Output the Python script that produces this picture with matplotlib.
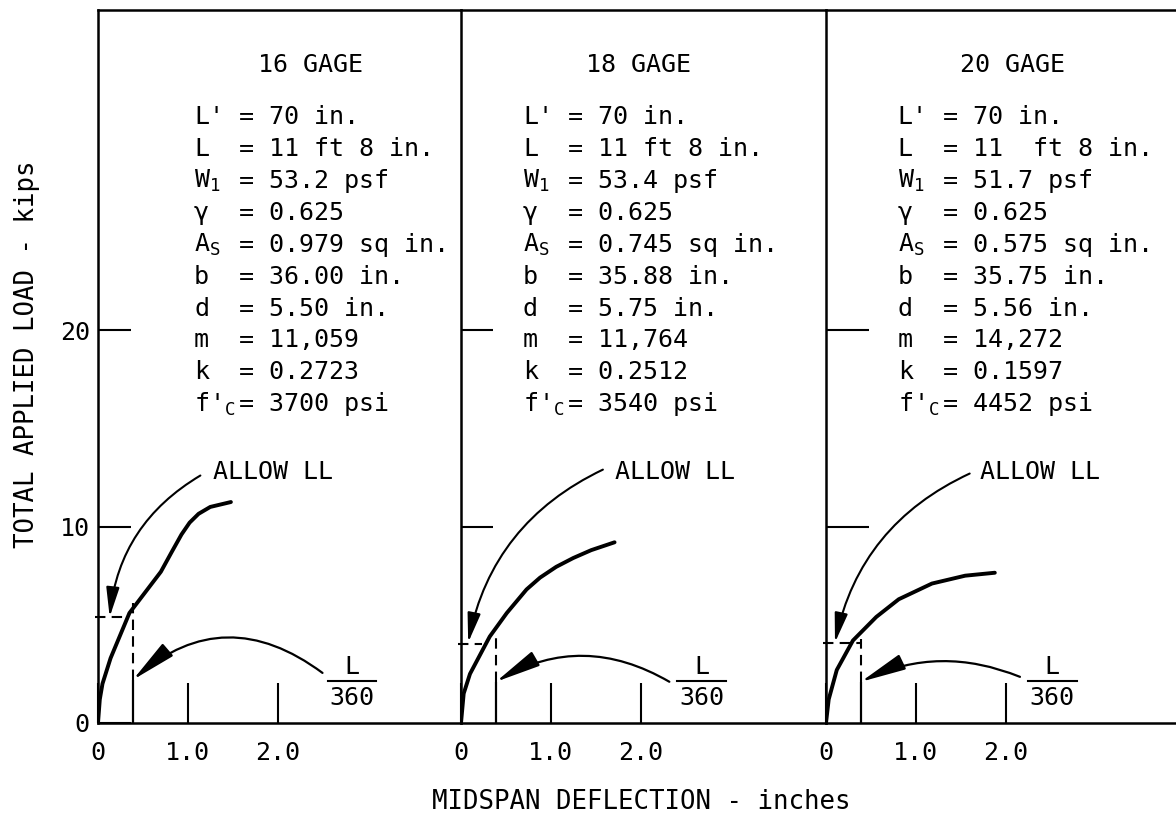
import matplotlib
matplotlib.use('Agg')
import matplotlib.pyplot as plt
from matplotlib.patches import FancyArrowPatch

plt.rcParams['font.family'] = ['DejaVu Sans Mono', 'DejaVu Sans']
plt.rcParams['mathtext.fontset'] = 'custom'
plt.rcParams['mathtext.rm'] = 'DejaVu Sans Mono'

# load-deflection curves (inches, kips)
defl_16 = [0, 0.02, 0.05, 0.14, 0.35, 0.55, 0.70, 0.82, 0.93, 1.02, 1.12, 1.25, 1.48]
load_16 = [0, 1.2, 2.0, 3.3, 5.6, 6.8, 7.7, 8.7, 9.6, 10.2, 10.65, 11.0, 11.25]
defl_18 = [0, 0.03, 0.10, 0.32, 0.51, 0.73, 0.88, 1.06, 1.25, 1.45, 1.71]
load_18 = [0, 1.5, 2.5, 4.4, 5.6, 6.8, 7.4, 7.95, 8.4, 8.8, 9.2]
defl_20 = [0, 0.03, 0.12, 0.30, 0.56, 0.81, 1.18, 1.55, 1.88]
load_20 = [0, 1.2, 2.7, 4.2, 5.4, 6.3, 7.1, 7.5, 7.65]

gages = ['16 GAGE', '18 GAGE', '20 GAGE']
prop_labels = ["L'", "L", r"$\mathregular{W_1}$", "\u03b3", r"$\mathregular{A_S}$",
               "b", "d", "m", "k", r"f'$_\mathregular{C}$"]
values_16 = ["70 in.", "11 ft 8 in.", "53.2 psf", "0.625", "0.979 sq in.",
             "36.00 in.", "5.50 in.", "11,059", "0.2723", "3700 psi"]
values_18 = ["70 in.", "11 ft 8 in.", "53.4 psf", "0.625", "0.745 sq in.",
             "35.88 in.", "5.75 in.", "11,764", "0.2512", "3540 psi"]
values_20 = ["70 in.", "11  ft 8 in.", "51.7 psf", "0.625", "0.575 sq in.",
             "35.75 in.", "5.56 in.", "14,272", "0.1597", "4452 psi"]

L360 = 140 / 360.0                 # L/360 deflection, in.
solid_top = [2.2, 2.1, 2.1]
dash_top = [6.1, 4.6, 4.3]
allow_load = [5.4, 4.0, 4.05]
allow_end = [0.34, 0.23, 0.40]

curves = [(defl_16, load_16), (defl_18, load_18), (defl_20, load_20)]
values = [values_16, values_18, values_20]

# layout per panel (pixels) and annotation spots (data units)
W, H = 1176, 818
panel_px = [(98, 363), (461, 365), (826, 365)]
text_x = [1.07, 0.69, 0.80]
title_x = [2.37, 1.98, 2.08]
allow_txt_x = [1.28, 1.71, 1.71]
allow_tail = [(1.14, 12.6), (1.58, 12.9), (1.60, 12.7)]
allow_head = [(0.13, 5.4), (0.08, 4.1), (0.10, 4.1)]
lim_tail = [(2.50, 2.55), (2.32, 2.1), (2.16, 2.35)]
lim_rad = [0.4, 0.29, 0.22]
lim_lbl_x = [2.83, 2.68, 2.52]
ytick_len = [24, 23, 31]

fs = 18
cw = 0.602 * fs      # monospace char width, points
lh = 23              # line height, points

fig = plt.figure(figsize=(W / 100, H / 100), dpi=100)

for i in range(3):
    left, wpx = panel_px[i]
    ax = fig.add_axes([left / W, 95 / H, wpx / W, 713 / H])
    ax.set_xlim(0, wpx / 89.8)
    ax.set_ylim(0, 36.3)
    ax.spines['right'].set_visible(False)
    for s in ['left', 'top', 'bottom']:
        ax.spines[s].set_linewidth(1.8)

    ax.set_xticks([0, 1, 2])
    ax.set_xticklabels(['0', '1.0', '2.0'])
    ax.tick_params(axis='x', direction='in', length=29, width=1.5, pad=13, labelsize=fs)
    if i == 0:
        ax.set_yticks([0, 10, 20])
        ax.set_yticklabels(['0', '10', '20'])
    else:
        ax.set_yticks([10, 20])
        ax.set_yticklabels([])
    ax.tick_params(axis='y', direction='in', length=ytick_len[i], width=1.5, pad=6, labelsize=fs)

    x, y = curves[i]
    ax.plot(x, y, color='black', lw=2.8, solid_capstyle='round', solid_joinstyle='round')

    # L/360 and allowable live load markers
    ax.vlines(L360, 0, solid_top[i], color='black', lw=1.6)
    ax.vlines(L360, solid_top[i], dash_top[i], color='black', lw=1.5, linestyles=(0, (5, 3)))
    ax.hlines(allow_load[i], -0.03, allow_end[i], color='black', lw=1.5,
              linestyles=(0, (5, 3)), clip_on=False)

    # property block
    y0 = 30.86
    ax.text(title_x[i], 33.5, gages[i], ha='center', va='center', fontsize=fs)
    for j, (lab, val) in enumerate(zip(prop_labels, values[i])):
        ax.annotate(lab, xy=(text_x[i], y0), xytext=(0, -j * lh), textcoords='offset points',
                    ha='left', va='center', fontsize=fs)
        ax.annotate('= ' + val, xy=(text_x[i], y0), xytext=(3 * cw, -j * lh),
                    textcoords='offset points', ha='left', va='center', fontsize=fs)

    # ALLOW LL arrow
    ax.text(allow_txt_x[i], 12.78, 'ALLOW LL', ha='left', va='center', fontsize=fs)
    ax.add_patch(FancyArrowPatch(allow_tail[i], allow_head[i],
                                 connectionstyle='arc3,rad=0.25',
                                 arrowstyle='-|>,head_length=0.9,head_width=0.2',
                                 mutation_scale=20, color='black', lw=1.5,
                                 shrinkA=0, shrinkB=0))

    # L/360 arrow and label
    ax.add_patch(FancyArrowPatch(lim_tail[i], (L360, solid_top[i]),
                                 connectionstyle='arc3,rad=%.2f' % lim_rad[i],
                                 arrowstyle='-|>,head_length=1.4,head_width=0.25',
                                 mutation_scale=20, color='black', lw=1.6,
                                 shrinkA=0, shrinkB=0))
    lx = lim_lbl_x[i]
    ax.text(lx, 2.85, 'L', ha='center', va='center', fontsize=fs)
    ax.plot([lx - 0.27, lx + 0.27], [2.14, 2.14], color='black', lw=1.5)
    ax.text(lx, 1.27, '360', ha='center', va='center', fontsize=fs)

fig.text(27 / W, 1 - 354 / H, 'TOTAL APPLIED LOAD - kips', rotation=90,
         ha='center', va='center', fontsize=18.5)
fig.text(641 / W, 1 - 802 / H, 'MIDSPAN DEFLECTION - inches',
         ha='center', va='center', fontsize=18.5)

fig.savefig('out.png', dpi=100)
